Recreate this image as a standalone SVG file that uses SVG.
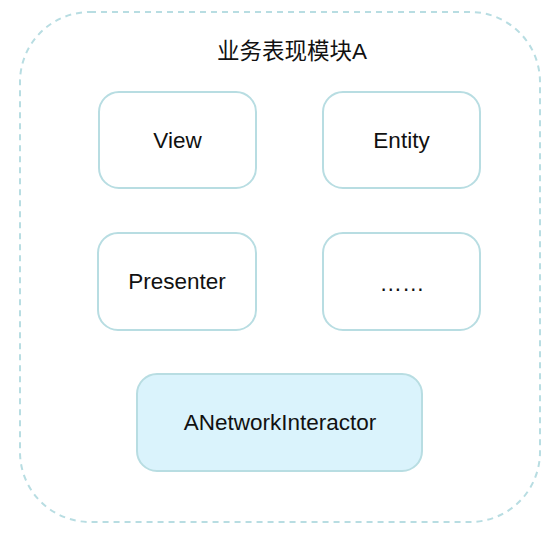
<svg xmlns="http://www.w3.org/2000/svg" width="555" height="535" viewBox="0 0 555 535">
<style>
.box{fill:#ffffff;stroke:#b8dde2;stroke-width:2}
.hl{fill:#daf3fc;stroke:#b8dde2;stroke-width:2}
.outer{fill:#ffffff;stroke:#b8dde2;stroke-width:2;stroke-dasharray:6 5}
text{font-family:"Liberation Sans","Noto Sans CJK SC",sans-serif;font-size:22.5px;fill:#111;text-anchor:middle;dominant-baseline:central}
</style>
<rect width="555" height="535" fill="#ffffff"/>
<g id="module">
<rect class="outer" x="20" y="12" width="520" height="510" rx="70" ry="70"/>
<text x="292" y="51">业务表现模块A</text>
</g>
<g id="view"><rect class="box" x="99" y="92" width="157" height="96" rx="20"/><text x="177.5" y="140">View</text></g>
<g id="entity"><rect class="box" x="323" y="92" width="157" height="96" rx="20"/><text x="401.5" y="140">Entity</text></g>
<g id="presenter"><rect class="box" x="98" y="233" width="158" height="97" rx="20"/><text x="177" y="281">Presenter</text></g>
<g id="more"><rect class="box" x="323" y="233" width="157" height="97" rx="20"/><text x="402" y="283">……</text></g>
<g id="interactor"><rect class="hl" x="137" y="374" width="285" height="97" rx="20"/><text x="280" y="422">ANetworkInteractor</text></g>
<g id="connectors"></g>
</svg>
